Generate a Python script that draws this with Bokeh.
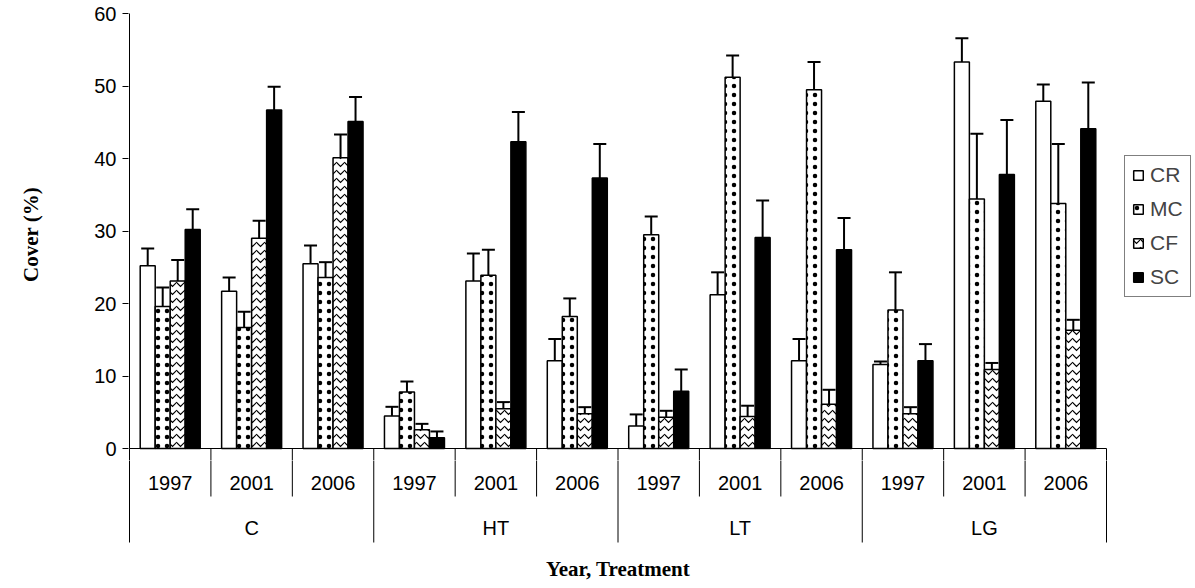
from bokeh.plotting import figure
from bokeh.layouts import column
from bokeh.models import (Range1d, ColumnDataSource, FixedTicker, Legend, LegendItem)
from bokeh.core.properties import value
from bokeh.embed import file_html
from bokeh.resources import INLINE

# ---- data ----
treatments = ["C", "HT", "LT", "LG"]
years = ["1997", "2001", "2006"]
series = ["CR", "MC", "CF", "SC"]

cr_mean = [25.2, 21.7, 25.5, 4.5, 23.1, 12.1, 3.1, 21.2, 12.1, 11.6, 53.3, 47.9]
cr_se = [2.4, 1.9, 2.5, 1.25, 3.8, 3.0, 1.6, 3.1, 3.0, 0.4, 3.3, 2.3]
mc_mean = [19.6, 16.7, 23.6, 7.8, 23.9, 18.2, 29.5, 51.2, 49.5, 19.1, 34.4, 33.8]
mc_se = [2.6, 2.15, 2.1, 1.44, 3.5, 2.5, 2.5, 3.0, 3.8, 5.2, 9.0, 8.2]
cf_mean = [23.1, 29.0, 40.1, 2.6, 5.5, 4.8, 4.3, 4.4, 6.1, 4.8, 10.9, 16.3]
cf_se = [2.9, 2.4, 3.2, 0.8, 0.9, 0.9, 0.9, 1.5, 2.0, 0.9, 0.9, 1.45]
sc_mean = [30.2, 46.7, 45.1, 1.5, 42.3, 37.3, 7.9, 29.1, 27.4, 12.1, 37.8, 44.1]
sc_se = [2.8, 3.2, 3.4, 0.85, 4.1, 4.7, 3.0, 5.1, 4.4, 2.3, 7.5, 6.4]

y_ticks = [0, 10, 20, 30, 40, 50, 60]

means = [cr_mean, mc_mean, cf_mean, sc_mean]
ses = [cr_se, mc_se, cf_se, sc_se]

# ---- geometry ----
PXX = 977.0 / 12.0     # px per group
PXY = 435.0 / 60.0     # px per unit
H1 = 460               # height of the value panel (axis at px 448)
x_range = Range1d(-1.0 / PXX, (1195 - 129) / PXX)
y_end = 60 + 5.0 / PXY
y_start = y_end - (H1 - 8) / PXY

p = figure(width=1195, height=H1, output_backend="svg", toolbar_location=None,
           x_range=x_range, y_range=Range1d(y_start, y_end),
           x_axis_type=None, min_border_left=128, min_border_right=0,
           min_border_top=8, min_border_bottom=0)
p.outline_line_color = None
p.grid.visible = False
p.background_fill_color = "white"

yax = p.yaxis[0]
yax.ticker = FixedTicker(ticks=y_ticks)
yax.axis_line_color = None
yax.major_tick_out = 6
yax.major_tick_in = 0
yax.major_tick_line_color = "black"
yax.major_tick_line_width = 1
yax.minor_tick_line_color = None
yax.major_label_text_font = "Liberation Sans"
yax.major_label_text_font_size = "20px"
yax.major_label_text_color = "black"
yax.major_label_standoff = 6
yax.axis_label = "Cover (%)"
yax.axis_label_text_font = "Liberation Serif"
yax.axis_label_text_font_style = "bold"
yax.axis_label_text_font_size = "21px"
yax.axis_label_text_color = "black"
yax.axis_label_standoff = 48

# axis lines
p.segment(x0=[0, 0], y0=[0, 0], x1=[0, 12], y1=[60, 0], line_color="black", line_width=1)

bw = 15.0 / PXX
offsets = [-1.5 * bw, -0.5 * bw, 0.5 * bw, 1.5 * bw]
styles = [
    dict(fill_color="white", hatch_pattern=None),
    dict(fill_color="white", hatch_pattern="dot", hatch_scale=9, hatch_weight=2, hatch_color="black"),
    dict(fill_color="white", hatch_pattern="horizontal_wave", hatch_scale=8, hatch_weight=1.2, hatch_color="black"),
    dict(fill_color="black", hatch_pattern=None),
]

renderers = []
for k in range(4):
    xs = [i + 0.5 + offsets[k] for i in range(12)]
    src = ColumnDataSource(dict(x=xs, top=means[k]))
    st = dict(styles[k])
    hp = st.pop("hatch_pattern")
    kw = dict(x="x", top="top", bottom=0, width=bw, source=src, line_color="black", line_width=1.5)
    kw.update(st)
    if hp:
        kw["hatch_pattern"] = hp
    r = p.vbar(**kw)
    renderers.append(r)

cap = 13.0 / PXX
for k in range(4):
    xs = [i + 0.5 + offsets[k] for i in range(12)]
    tops = [m + s for m, s in zip(means[k], ses[k])]
    p.segment(x0=xs, y0=means[k], x1=xs, y1=tops, line_color="black", line_width=2)
    p.segment(x0=[x - cap / 2 for x in xs], y0=tops, x1=[x + cap / 2 for x in xs], y1=tops,
              line_color="black", line_width=2)

# separators start in the value panel (continue in the strip below)
p.segment(x0=list(range(13)), y0=[0] * 13, x1=list(range(13)), y1=[-40.0 / PXY] * 13,
          line_color="black", line_width=1)

legend = Legend(items=[LegendItem(label=s, renderers=[r]) for s, r in zip(series, renderers)],
                location=(996, 163), orientation="vertical")
legend.label_text_font = "Liberation Sans"
legend.label_text_font_size = "21px"
legend.glyph_width = 12
legend.glyph_height = 12
legend.label_standoff = 6
legend.spacing = 10
legend.padding = 7
legend.margin = 0
legend.border_line_color = "black"
legend.border_line_width = 1
legend.background_fill_alpha = 1
p.add_layout(legend)

# ---- category axis strip (pixel offsets below the value axis) ----
q = figure(width=1195, height=588 - H1, output_backend="svg", toolbar_location=None,
           x_range=x_range, y_range=Range1d(-140, -(H1 - 448)),
           x_axis_type=None, y_axis_type=None, min_border_left=128, min_border_right=0,
           min_border_top=0, min_border_bottom=0)
q.outline_line_color = None
q.grid.visible = False
q.background_fill_color = "white"

q.segment(x0=list(range(13)), y0=[0] * 13, x1=list(range(13)),
          y1=[-94 if i % 3 == 0 else -48 for i in range(13)],
          line_color="black", line_width=1)
year_x = [i + 0.5 for i in range(12)]
year_txt = [years[i % 3] for i in range(12)]
q.text(x=year_x, y=[-34] * 12, text=year_txt, text_align="center", text_baseline="middle",
       text_font=value("Liberation Sans"), text_font_size="20px", text_color="black")
q.text(x=[1.5 + 3 * j for j in range(4)], y=[-79] * 4, text=treatments,
       text_align="center", text_baseline="middle",
       text_font=value("Liberation Sans"), text_font_size="20px", text_color="black")
q.text(x=[6.0], y=[-120], text=["Year, Treatment"], text_align="center", text_baseline="middle",
       text_font=value("Liberation Serif"), text_font_style="bold", text_font_size="21px", text_color="black")

layout = column(p, q, spacing=0)
open("out.html", "w").write(file_html(layout, INLINE))
